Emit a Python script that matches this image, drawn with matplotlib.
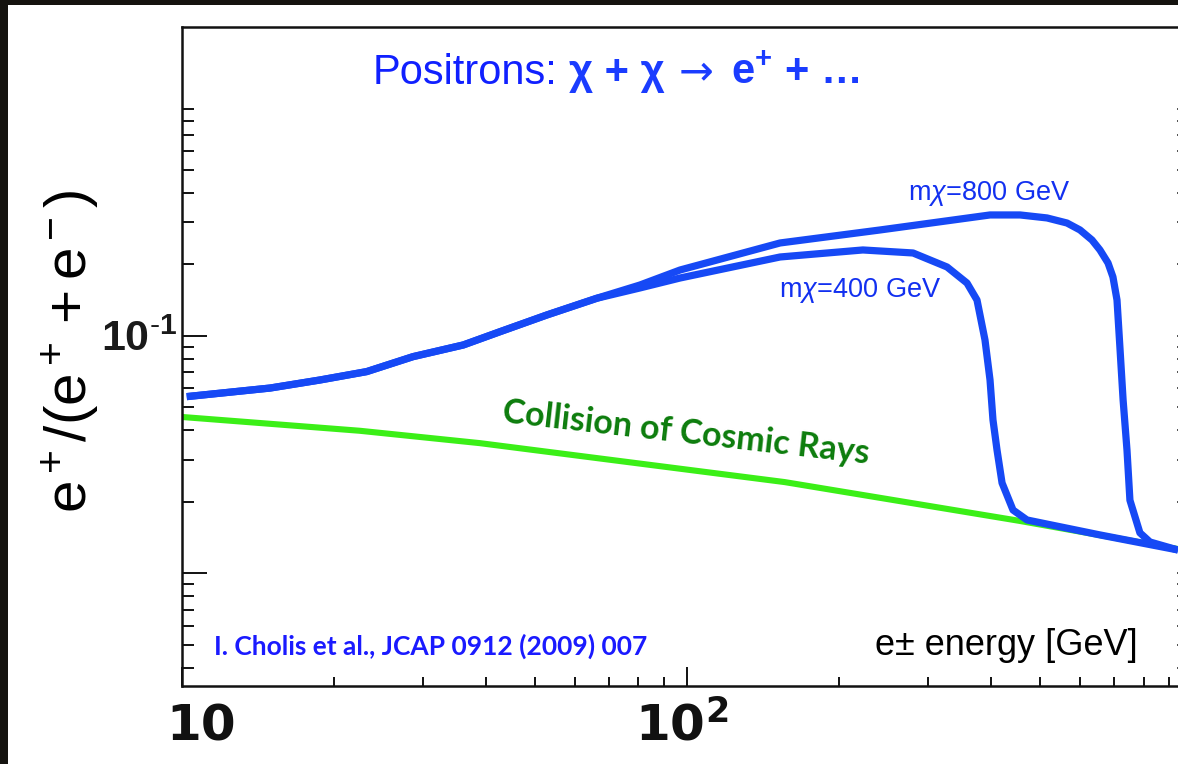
import numpy as np
import matplotlib
matplotlib.use("Agg")
import matplotlib.pyplot as plt
from matplotlib.patches import Rectangle
from matplotlib.ticker import FixedLocator, NullFormatter

plt.rcParams['font.family'] = ['Liberation Sans', 'DejaVu Sans']
plt.rcParams['mathtext.fontset'] = 'custom'
plt.rcParams['mathtext.rm'] = 'Liberation Sans'
plt.rcParams['mathtext.it'] = 'Liberation Sans:italic'
plt.rcParams['mathtext.bf'] = 'Liberation Sans:bold'

# secondary positrons from cosmic-ray collisions
cr_energy = [10, 22.5, 38.9, 156, 456, 935]
cr_frac = [0.0455, 0.0398, 0.0353, 0.0242, 0.0166, 0.01265]

# dark matter + background, shared low-energy part
shared_energy = [10.24, 14.97, 18.8, 23.25, 28.7, 36.1, 42.7, 52.8, 66.3]
shared_frac = [0.0554, 0.0602, 0.0651, 0.0706, 0.0816, 0.0914, 0.104, 0.1222, 0.1437]

# m_chi = 800 GeV
m800_energy = [80.7, 96.9, 152.8, 241, 397.6, 456, 515.5, 564.6, 599, 632.6, 656,
               680.6, 696, 709, 719, 729, 742, 752, 787, 824, 936]
m800_frac = [0.1634, 0.189, 0.2456, 0.2786, 0.3222, 0.3222, 0.313, 0.298, 0.2786,
             0.2528, 0.2295, 0.2023, 0.1767, 0.1413, 0.0871, 0.0536, 0.033, 0.0203,
             0.0148, 0.01354, 0.01253]

# m_chi = 400 GeV
m400_energy = [80.7, 96.9, 152.8, 222.8, 280, 326.9, 358, 374.7, 388.6, 397.6,
               403, 410.5, 420, 441.5, 470.6, 656, 936]
m400_frac = [0.1588, 0.1749, 0.2144, 0.2295, 0.2229, 0.1946, 0.1666, 0.1413,
             0.0959, 0.0651, 0.0442, 0.033, 0.024, 0.01846, 0.01676, 0.0145, 0.01253]

x_major = [10, 100, 1000]
x_minor = [20, 30, 40, 50, 60, 70, 80, 90, 200, 300, 400, 500, 600, 700, 800, 900]
x_labels = ['10', r'$\mathbf{10^2}$']
y_major = [0.01, 0.1]
y_minor = [0.004, 0.005, 0.006, 0.007, 0.008, 0.009,
           0.02, 0.03, 0.04, 0.05, 0.06, 0.07, 0.08, 0.09,
           0.2, 0.3, 0.4, 0.5, 0.6, 0.7, 0.8, 0.9]
y_labels = ['', r'$\mathbf{10}^{\mathbf{\text{-}1}}$']

W, H = 1178, 764
BLUE = '#1649f5'
GREEN = '#3bef17'
INK = '#111111'


def fx(px):
    return px / W


def fy(py):
    return 1 - py / H


fig = plt.figure(figsize=(W / 100, H / 100), dpi=100, facecolor='#15130f')
fig.patches.append(Rectangle((fx(8), 0), 1, fy(5), transform=fig.transFigure,
                             facecolor='white', edgecolor='none', zorder=-5))

ax = fig.add_axes([fx(181.5), fy(686), (1192.5 - 181.5) / W, (686 - 26.7) / H])
ax.set_facecolor('none')
ax.set_xscale('log')
ax.set_yscale('log')
ax.set_xlim(10, 1000)
ax.set_ylim(10 ** -2.4745, 10 ** 0.3005)

ax.plot(cr_energy, cr_frac, color=GREEN, lw=4.4, solid_capstyle='butt', zorder=2)
full400_e = shared_energy + m400_energy
full400_f = shared_frac + m400_frac
full800_e = shared_energy + m800_energy
full800_f = shared_frac + m800_frac
for e, f in [(full400_e, full400_f), (full800_e, full800_f)]:
    ax.plot(e, f, color=BLUE, lw=5.2, solid_joinstyle='round', solid_capstyle='butt', zorder=3)

for s in ax.spines.values():
    s.set_linewidth(1.8)
    s.set_color(INK)

ax.xaxis.set_major_locator(FixedLocator(x_major))
ax.xaxis.set_minor_locator(FixedLocator(x_minor))
ax.yaxis.set_major_locator(FixedLocator(y_major))
ax.yaxis.set_minor_locator(FixedLocator(y_minor))
ax.xaxis.set_major_formatter(NullFormatter())
ax.xaxis.set_minor_formatter(NullFormatter())
ax.yaxis.set_minor_formatter(NullFormatter())
ax.set_yticklabels(y_labels)
ax.tick_params(axis='y', which='major', direction='in', length=18, width=1.4,
               labelsize=31, pad=3, right=False, color=INK, labelcolor='#1a1a1a')
ax.tick_params(axis='y', which='minor', direction='in', length=8.8, width=1.4,
               right=False, color=INK)
ax.tick_params(axis='x', which='major', direction='in', length=14, width=1.4,
               top=False, color=INK)
ax.tick_params(axis='x', which='minor', direction='in', length=6.5, width=1.4,
               top=False, color=INK)

# right-hand ticks: only their tips are inside the cropped slide
sec = ax.secondary_yaxis('right')
sec.yaxis.set_major_locator(FixedLocator(y_major + y_minor))
sec.yaxis.set_minor_locator(FixedLocator([]))
sec.yaxis.set_major_formatter(NullFormatter())
sec.tick_params(direction='in', length=11.8, width=1.2, color='#333333')
sec.spines['right'].set_linewidth(1.8)

# x tick labels drawn below the axis, slightly shifted like the slide
for val, lab, dx in zip(x_major[:2], x_labels, [14, -4]):
    ax.annotate(lab, xy=(val, 0), xycoords=('data', 'axes fraction'),
                xytext=(dx, -29), textcoords='offset points', ha='center', va='center',
                fontsize=36, fontweight='bold', family='DejaVu Sans',
                math_fontfamily='dejavusans', color=INK, annotation_clip=False)

fig.text(fx(70), fy(352), r'$\mathrm{e^+ /(e^+ + e^-)}$', rotation=90,
         ha='center', va='center', fontsize=42, color='black')

# headline: plain word, bold reaction, thin arrow
fig.text(fx(373), fy(84), 'Positrons:', fontsize=30, color='#1020ff',
         ha='left', va='baseline')
fig.text(fx(569), fy(84), '\u03c7 + \u03c7', fontsize=30, fontweight='bold',
         color='#1a3cff', ha='left', va='baseline')
fig.text(fx(679), fy(84), '\u2192', fontsize=30, family='DejaVu Sans',
         color='#1a3cff', ha='left', va='baseline')
fig.text(fx(731), fy(84), 'e$^{\\mathbf{+}}$ + \u2026', fontsize=30, fontweight='bold',
         color='#1a3cff', ha='left', va='baseline')

fig.text(fx(908), fy(200), r'm$\chi$=800 GeV', fontsize=19.5, color='#1230f0',
         ha='left', va='baseline')
fig.text(fx(779), fy(297), r'm$\chi$=400 GeV', fontsize=19.5, color='#1230f0',
         ha='left', va='baseline')
fig.text(fx(502), fy(422), 'Collision of Cosmic Rays', fontsize=24.5, fontweight='bold',
         family='Lato', color='#0c7c0c', rotation=-6.5, rotation_mode='anchor',
         ha='left', va='baseline')
fig.text(fx(214), fy(655), 'I. Cholis et al., JCAP 0912 (2009) 007', fontsize=19,
         fontweight='bold', family='Lato', color='#1a1aff', ha='left', va='baseline')
fig.text(fx(875), fy(655), 'e\u00b1 energy [GeV]', fontsize=26, color='black',
         ha='left', va='baseline')

fig.savefig('out.png', dpi=100, facecolor=fig.get_facecolor())
